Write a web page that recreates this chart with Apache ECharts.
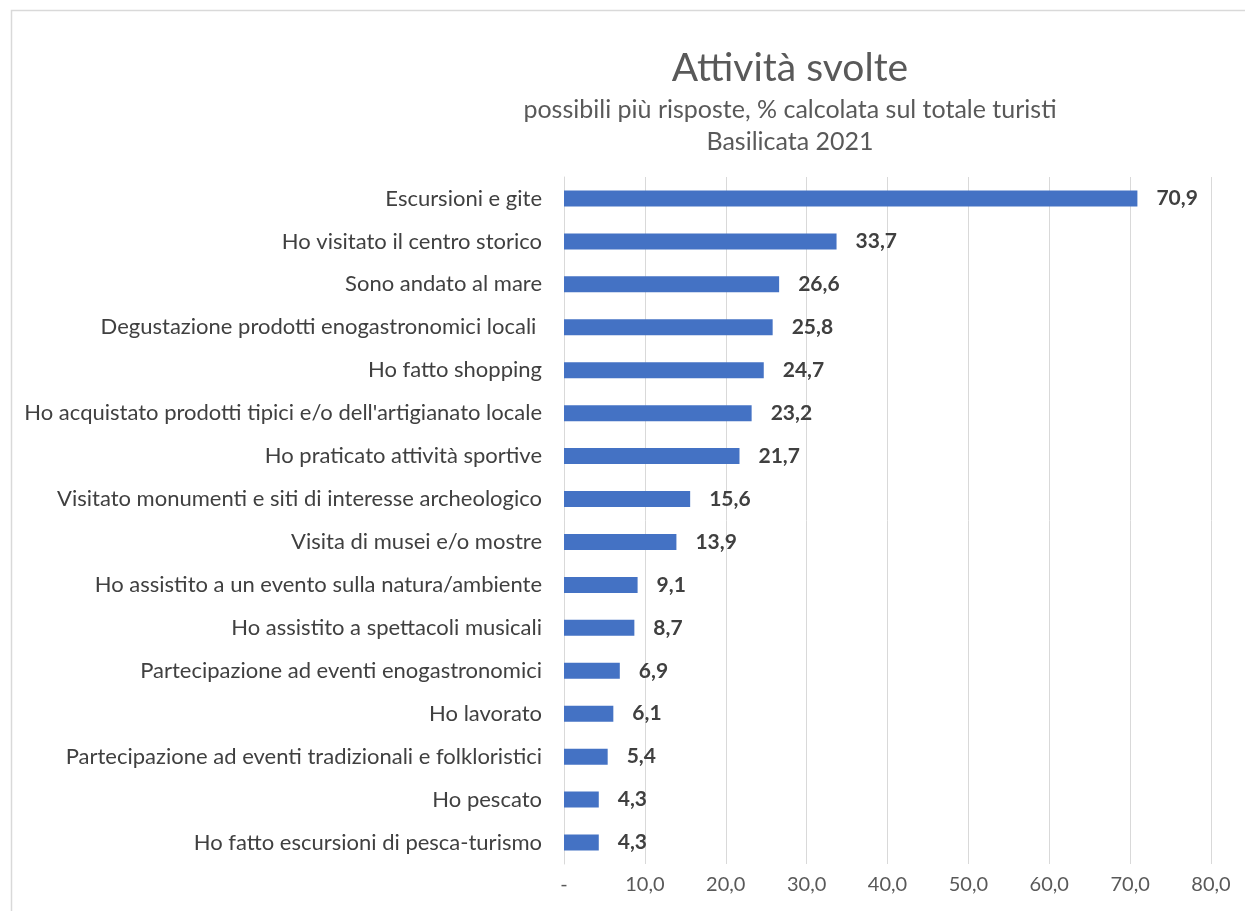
<!DOCTYPE html>
<html>
<head>
<meta charset="utf-8">
<script src="https://cdn.jsdelivr.net/npm/echarts@6/dist/echarts.min.js"></script>
<style>
  html, body { margin: 0; padding: 0; background: #ffffff; }
  #chart { width: 1245px; height: 911px; }
</style>
</head>
<body>
<div id="chart"></div>
<script>
// Attività svolte dai turisti in Basilicata, 2021 (% sul totale turisti)
const categories = [
  "Escursioni e gite",
  "Ho visitato il centro storico",
  "Sono andato al mare",
  "Degustazione prodotti enogastronomici locali ",
  "Ho fatto shopping",
  "Ho acquistato prodotti tipici e/o dell'artigianato locale",
  "Ho praticato attività sportive",
  "Visitato monumenti e siti di interesse archeologico",
  "Visita di musei e/o mostre",
  "Ho assistito a un evento sulla natura/ambiente",
  "Ho assistito a spettacoli musicali",
  "Partecipazione ad eventi enogastronomici",
  "Ho lavorato",
  "Partecipazione ad eventi tradizionali e folkloristici",
  "Ho pescato",
  "Ho fatto escursioni di pesca-turismo"
];
const values = [70.9, 33.7, 26.6, 25.8, 24.7, 23.2, 21.7, 15.6, 13.9, 9.1, 8.7, 6.9, 6.1, 5.4, 4.3, 4.3];
const axisTicks = [0, 10, 20, 30, 40, 50, 60, 70, 80];

const fmt = v => v.toFixed(1).replace('.', ',');
const FONT = 'Lato, "Open Sans", sans-serif';

const chart = echarts.init(document.getElementById('chart'), null, { renderer: 'canvas' });

chart.setOption({
  backgroundColor: '#ffffff',
  animation: false,
  graphic: [
    {
      type: 'rect',
      shape: { x: 11.5, y: 10.5, width: 1400, height: 1000 },
      style: { fill: 'none', stroke: '#d9d9d9', lineWidth: 1.5 },
      silent: true, z: -1
    }
  ],
  title: [
    {
      text: 'Attività svolte',
      left: 785, top: 44, textAlign: 'center',
      textStyle: { fontFamily: FONT, fontSize: 39, fontWeight: 'normal', color: '#595959' }
    },
    {
      text: 'possibili più risposte, % calcolata sul totale turisti\nBasilicata 2021',
      left: 785, top: 89, textAlign: 'center',
      textStyle: { fontFamily: FONT, fontSize: 25, fontWeight: 'normal', color: '#595959', lineHeight: 32 }
    }
  ],
  grid: { left: 564, right: 34, top: 177, bottom: 47, containLabel: false },
  xAxis: {
    type: 'value',
    min: axisTicks[0],
    max: axisTicks[axisTicks.length - 1],
    interval: 10,
    axisLine: { show: false },
    axisTick: { show: false },
    splitLine: { show: true, lineStyle: { color: '#d9d9d9', width: 1 } },
    axisLabel: {
      margin: 11,
      fontFamily: FONT, fontSize: 20, color: '#595959',
      formatter: v => v === 0 ? '-' : fmt(v)
    }
  },
  yAxis: {
    type: 'category',
    inverse: true,
    data: categories,
    axisLine: { show: true, lineStyle: { color: '#d9d9d9' } },
    axisTick: { show: false },
    axisLabel: {
      margin: 22,
      fontFamily: FONT, fontSize: 22, color: '#404040'
    }
  },
  series: [{
    type: 'bar',
    data: values,
    barWidth: 16,
    itemStyle: { color: '#4472c4' },
    label: {
      show: true,
      position: 'right',
      distance: 19,
      fontFamily: FONT, fontSize: 21, fontWeight: 'bold', color: '#404040',
      formatter: p => fmt(p.value)
    }
  }]
});
</script>
</body>
</html>
